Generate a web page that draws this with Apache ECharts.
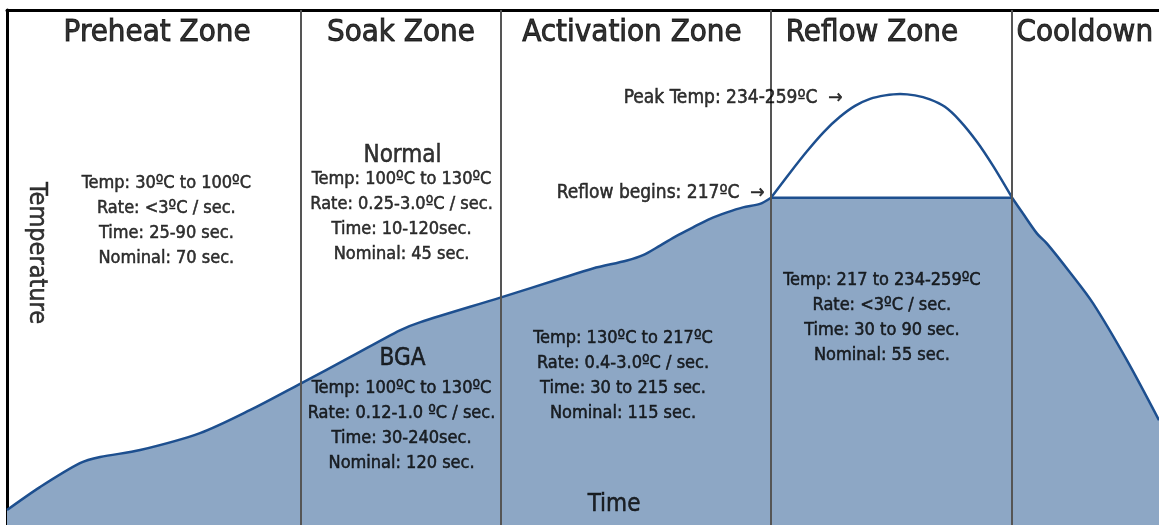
<!DOCTYPE html>
<html>
<head>
<meta charset="utf-8">
<script src="https://cdn.jsdelivr.net/npm/echarts@6/dist/echarts.min.js"></script>
<style>
  html, body { margin: 0; padding: 0; background: #fff; }
  #chart { width: 1159px; height: 525px; }
</style>
</head>
<body>
<div id="chart"></div>
<script>
// profile, time in seconds / temperature in degC
var rampTime = [0, 10.3, 22.8, 29.1, 41.6, 60.3, 75.9, 91.9, 107.2, 122.8, 129, 154.4, 172.8, 183.1, 193.75, 198.75, 204.1, 209.4, 214.4, 219.7, 225, 230, 235.3, 238.75];
var rampTemp = [29, 42.8, 57.2, 60.9, 65.1, 75.3, 89.1, 105.3, 121, 137.2, 142, 157, 168.2, 174.4, 179.2, 182.4, 188.2, 194.2, 199.2, 204.3, 208.2, 211.2, 213.3, 217];
var reflowTime = [238.75, 314.1];
var reflowTemp = [217, 217];
var peakTime = [238.75, 244.7, 250, 255.3, 260.3, 265, 269.7, 274.4, 279.1, 283.75, 288.4, 293.1, 297.8, 303.1, 308.1, 314.1];
var peakTemp = [217, 232.1, 245, 256.7, 265.7, 272.3, 276.5, 278.6, 279.5, 278.6, 276.2, 271.7, 263.3, 250.7, 236.3, 217];
var coolTime = [314.1, 317.5, 321.9, 325, 332.2, 339.4, 350, 360];
var coolTemp = [217, 207.5, 195.4, 189.4, 172, 153.4, 119.1, 83.1];

var zoneBounds = [91.9, 154.4, 238.75, 314.1];
var zoneNames = ['Preheat Zone', 'Soak Zone', 'Activation Zone', 'Reflow Zone', 'Cooldown'];

var preheatText = ['Temp: 30ºC to 100ºC', 'Rate: <3ºC / sec.', 'Time: 25-90 sec.', 'Nominal: 70 sec.'];
var normalText = ['Temp: 100ºC to 130ºC', 'Rate: 0.25-3.0ºC / sec.', 'Time: 10-120sec.', 'Nominal: 45 sec.'];
var bgaText = ['Temp: 100ºC to 130ºC', 'Rate: 0.12-1.0 ºC / sec.', 'Time: 30-240sec.', 'Nominal: 120 sec.'];
var activationText = ['Temp: 130ºC to 217ºC', 'Rate: 0.4-3.0ºC / sec.', 'Time: 30 to 215 sec.', 'Nominal: 115 sec.'];
var reflowText = ['Temp: 217 to 234-259ºC', 'Rate: <3ºC / sec.', 'Time: 30 to 90 sec.', 'Nominal: 55 sec.'];
var peakNote = 'Peak Temp: 234-259ºC  →';
var reflowNote = 'Reflow begins: 217ºC  →';

var FONT = "'DejaVu Sans Condensed', 'Liberation Sans Narrow', sans-serif";
var FILL = '#8da7c5';
var LINE = '#1d4f8f';

function pairs(xs, ys) {
  return xs.map(function (x, i) { return [x, ys[i]]; });
}

function txt(x, y, text, size, extra) {
  var label = {
    show: true,
    position: 'inside',
    formatter: text,
    fontFamily: FONT,
    fontSize: size,
    lineHeight: size < 20 ? 25 : Math.round(size * 1.2),
    color: '#000',
    // a hairline outline in the same colour to get the heavier look of the original
    textBorderColor: '#000',
    textBorderWidth: size > 28 ? 0.9 : 0.5,
    align: 'center'
  };
  if (extra) {
    for (var k in extra) label[k] = extra[k];
  }
  return { value: [x, y], label: label };
}

var labels = [
  txt(46.9, 316, zoneNames[0], 31),
  txt(123.1, 316, zoneNames[1], 31),
  txt(195.3, 316, zoneNames[2], 31),
  txt(270.3, 316, zoneNames[3], 31),
  txt(315.3, 316, zoneNames[4], 31, { position: 'right', distance: 0, align: 'left' }),
  txt(49.8, 203, preheatText.join('\n'), 18),
  txt(123.6, 242.5, 'Normal', 24),
  txt(123.3, 205.3, normalText.join('\n'), 18),
  txt(123.6, 120.3, 'BGA', 24),
  txt(123.3, 79.8, bgaText.join('\n'), 18),
  txt(192.5, 109.8, activationText.join('\n'), 18),
  txt(273.4, 144.7, reflowText.join('\n'), 18),
  txt(189.7, 32, 'Time', 24),
  txt(9.2, 183.7, 'Temperature', 25, { rotate: -90 }),
  txt(261.3, 277.1, peakNote, 19, { position: 'left', distance: 0, align: 'right' }),
  txt(236.9, 220.1, reflowNote, 19, { position: 'left', distance: 0, align: 'right' })
];

var areaSeries = function (data) {
  return {
    type: 'line',
    data: data,
    smooth: 0.3,
    symbol: 'none',
    z: 2,
    lineStyle: { color: LINE, width: 2.5 },
    areaStyle: { color: FILL, opacity: 1, origin: 'start' }
  };
};

var chart = echarts.init(document.getElementById('chart'));
chart.setOption({
  animation: false,
  backgroundColor: '#fff',
  textStyle: { color: '#000', fontFamily: FONT },
  grid: { left: 7, top: 10, right: 0, bottom: 0 },
  xAxis: {
    type: 'value', min: 0, max: 360, position: 'top',
    axisLine: { show: true, onZero: false, lineStyle: { color: '#000', width: 3 } },
    axisTick: { show: false }, axisLabel: { show: false }, splitLine: { show: false }
  },
  yAxis: {
    type: 'value', min: 20, max: 330,
    axisLine: { show: true, onZero: false, lineStyle: { color: '#000', width: 3 } },
    axisTick: { show: false }, axisLabel: { show: false }, splitLine: { show: false }
  },
  series: [
    areaSeries(pairs(rampTime, rampTemp)),
    Object.assign(areaSeries(pairs(reflowTime, reflowTemp)), { smooth: false }),
    areaSeries(pairs(coolTime, coolTemp)),
    {
      type: 'line',
      data: pairs(peakTime, peakTemp),
      smooth: 0.3,
      symbol: 'none',
      z: 3,
      lineStyle: { color: LINE, width: 2.5 }
    },
    {
      type: 'scatter',
      data: [],
      z: 4,
      silent: true,
      markLine: {
        silent: true,
        symbol: 'none',
        label: { show: false },
        lineStyle: { color: '#555', width: 2, type: 'solid' },
        data: zoneBounds.map(function (b) { return { xAxis: b }; })
      }
    },
    {
      type: 'scatter',
      data: labels,
      symbolSize: 1,
      z: 6,
      silent: true,
      itemStyle: { color: 'rgba(0,0,0,0)' }
    }
  ]
});
</script>
</body>
</html>
